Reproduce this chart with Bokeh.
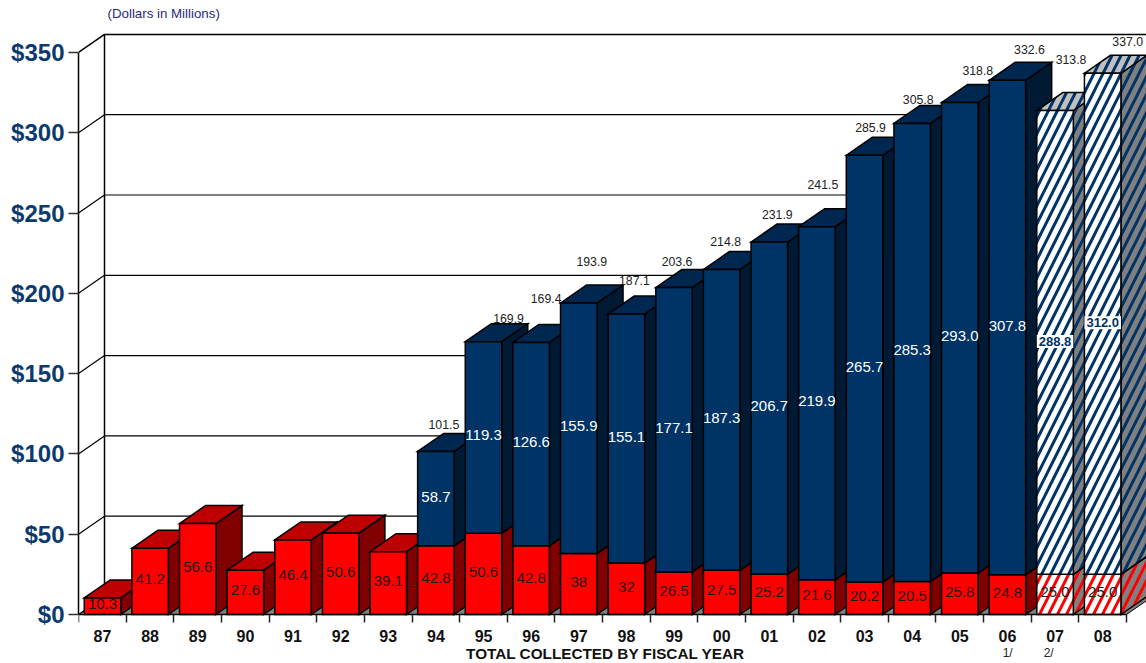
from bokeh.plotting import figure
from bokeh.models import Range1d, FixedTicker, ColumnDataSource
from bokeh.core.properties import value
from bokeh.embed import file_html
from bokeh.resources import INLINE

# ---- data ----
years = ["87","88","89","90","91","92","93","94","95","96","97","98","99","00","01","02","03","04","05","06","07","08"]
red_values = [10.3,41.2,56.6,27.6,46.4,50.6,39.1,42.8,50.6,42.8,38,32,26.5,27.5,25.2,21.6,20.2,20.5,25.8,24.8,25.0,25.0]
blue_values = [None,None,None,None,None,None,None,58.7,119.3,126.6,155.9,155.1,177.1,187.3,206.7,219.9,265.7,285.3,293.0,307.8,288.8,312.0]
red_labels = ["10.3","41.2","56.6","27.6","46.4","50.6","39.1","42.8","50.6","42.8","38","32","26.5","27.5","25.2","21.6","20.2","20.5","25.8","24.8","25.0","25.0"]
blue_labels = ["","","","","","","","58.7","119.3","126.6","155.9","155.1","177.1","187.3","206.7","219.9","265.7","285.3","293.0","307.8","288.8","312.0"]
total_labels = ["","","","","","","","101.5","169.9","169.4","193.9","187.1","203.6","214.8","231.9","241.5","285.9","305.8","318.8","332.6","313.8","337.0"]
y_ticks = [0,50,100,150,200,250,300,350]
y_tick_labels = ["$0","$50","$100","$150","$200","$250","$300","$350"]
projected = ["07","08"]

# ---- layout scale ----
PX_X = 47.62      # px per category
PX_Y = 1.606      # px per dollar
DX = 26 / PX_X    # 3-D depth
DY = 18 / PX_Y
BAR = 36.5 / PX_X
FONT = value("Liberation Sans")
total_dx = [0]*7 + [8,25,15,13,8,3,4,8,6,6,6,18,22,16,25]
total_dy = [0]*7 + [27,23,44,42,34,26,28,28,42,28,24,32,31,51,32]

p = figure(width=1146, height=663, output_backend="svg", toolbar_location=None,
           x_range=Range1d(-0.504, 21.92), y_range=Range1d(-49 / PX_Y, 614 / PX_Y),
           min_border_left=78, min_border_top=0, min_border_bottom=0, min_border_right=0,
           outline_line_color=None, background_fill_color="white")
p.grid.visible = False

# axes
ya = p.yaxis[0]
ya.ticker = FixedTicker(ticks=y_ticks)
ya.major_label_overrides = {t: l for t, l in zip(y_ticks, y_tick_labels)}
ya.major_label_text_font = "Liberation Sans"
ya.major_label_text_font_size = "24px"
ya.major_label_text_font_style = "bold"
ya.major_label_text_color = "#0b3a6e"
ya.major_tick_out = 10
ya.major_tick_in = 0
ya.minor_tick_out = 0
ya.minor_tick_in = 0
ya.major_label_standoff = 4
ya.axis_line_color = "black"
ya.axis_line_width = 1.5
ya.major_tick_line_color = "#333333"
ya.major_tick_line_width = 1.5
ya.bounds = (0, 350)

xa = p.xaxis[0]
xa.fixed_location = 0
xa.ticker = FixedTicker(ticks=list(range(22)), minor_ticks=[i - 0.5 for i in range(23)])
xa.major_label_overrides = {i: y for i, y in enumerate(years)}
xa.major_label_text_font = "Liberation Sans"
xa.major_label_text_font_size = "16px"
xa.major_label_text_font_style = "bold"
xa.major_label_text_color = "#111111"
xa.major_tick_in = 0
xa.major_tick_out = 0
xa.minor_tick_in = 0
xa.minor_tick_out = 8
xa.minor_tick_line_color = "#222222"
xa.minor_tick_line_width = 1.5
xa.major_label_standoff = 7
xa.axis_line_color = "black"
xa.axis_line_width = 1.5
xa.bounds = (-0.5, 21.5)

x0 = -0.504
xe = 22.5
# floor
p.patch([x0, 21.5, 21.5 + DX, xe, x0 + DX], [0, 0, DY, DY, DY], fill_color="#808080", line_color=None)
p.line([21.5, 21.5 + DX], [0, DY], line_color="black", line_width=1)
# back wall + left wall
p.line([x0 + DX, x0 + DX], [DY, 350 + DY], line_color="black", line_width=1.5)
for t in y_ticks:
    p.line([x0, x0 + DX, xe], [t, t + DY, t + DY], line_color="black", line_width=1.5 if t == 350 else 1.2)


def box(i, lo, hi, front, top, side, hatch=None):
    l = i - BAR / 2
    r = i + BAR / 2
    common = dict(line_color="black", line_width=1.5, line_join="miter")
    h = dict(hatch_pattern="right_diagonal_line", hatch_color=hatch, hatch_scale=18, hatch_weight=3) if hatch else {}
    p.patch([r, r + DX, r + DX, r], [lo, lo + DY, hi + DY, hi], fill_color=side, **h, **common)
    p.patch([l, l + DX, r + DX, r], [hi, hi + DY, hi + DY, hi], fill_color=top, **h, **common)
    p.patch([l, r, r, l], [lo, lo, hi, hi], fill_color=front, **h, **common)


for i, yr in enumerate(years):
    hatched = yr in projected
    rv = red_values[i]
    bv = blue_values[i]
    if hatched:
        box(i, 0, rv, "white", "#c0c0c0", "#808080", hatch="#ff0000")
        box(i, rv, rv + bv, "white", "#c0c0c0", "#808080", hatch="#003366")
    else:
        box(i, 0, rv, "#ff0000", "#bf0000", "#800000")
        if bv is not None:
            box(i, rv, rv + bv, "#003366", "#002750", "#001a33")

# value labels
xs = list(range(22))
red_src = ColumnDataSource(dict(x=xs, y=[r / 2 for r in red_values], t=red_labels))
p.text("x", "y", text="t", source=red_src, text_font=FONT, text_font_size="15px", text_color="#1a1a1a",
       text_align="center", text_baseline="middle", y_offset=-2)

idx = [i for i, v in enumerate(blue_values) if v is not None and years[i] not in projected]
blue_src = ColumnDataSource(dict(x=idx, y=[red_values[i] + blue_values[i] / 2 for i in idx], t=[blue_labels[i] for i in idx]))
p.text("x", "y", text="t", source=blue_src, text_font=FONT, text_font_size="15px", text_color="white",
       text_align="center", text_baseline="middle", y_offset=-2)

idx2 = [i for i, y in enumerate(years) if y in projected]
proj_src = ColumnDataSource(dict(x=idx2, y=[red_values[i] + blue_values[i] / 2 for i in idx2], t=[blue_labels[i] for i in idx2]))
p.text("x", "y", text="t", source=proj_src, text_font=FONT, text_font_size="13px", text_font_style="bold",
       text_color="#003366", text_align="center", text_baseline="middle", y_offset=-1,
       background_fill_color="white", padding=2)

idx3 = [i for i, t in enumerate(total_labels) if t]
tot_src = ColumnDataSource(dict(x=idx3, y=[red_values[i] + blue_values[i] for i in idx3], t=[total_labels[i] for i in idx3],
                                dx=[total_dx[i] for i in idx3], dy=[-total_dy[i] for i in idx3]))
p.text("x", "y", text="t", source=tot_src, x_offset="dx", y_offset="dy", text_font=FONT, text_font_size="12.3px",
       text_color="#222222", text_align="center", text_baseline="middle")


def outside(txt, xpos, ypos, size, align="left", color="#111111", style="normal"):
    p.text([(xpos - 102) / PX_X], [(614 - ypos) / PX_Y], text=[txt], text_font=FONT, text_font_size=size,
           text_align=align, text_baseline="middle", text_color=color, text_font_style=style)


outside("(Dollars in Millions)", 107, 13, "13.3px", color="#2a2a80")
outside("TOTAL COLLECTED BY FISCAL YEAR", 605, 653, "15.3px", align="center", style="bold")
outside("1/", 1007, 652, "12px", align="center", color="#222222")
outside("2/", 1048, 652, "12px", align="center", color="#222222")

open("out.html", "w").write(file_html(p, INLINE))
